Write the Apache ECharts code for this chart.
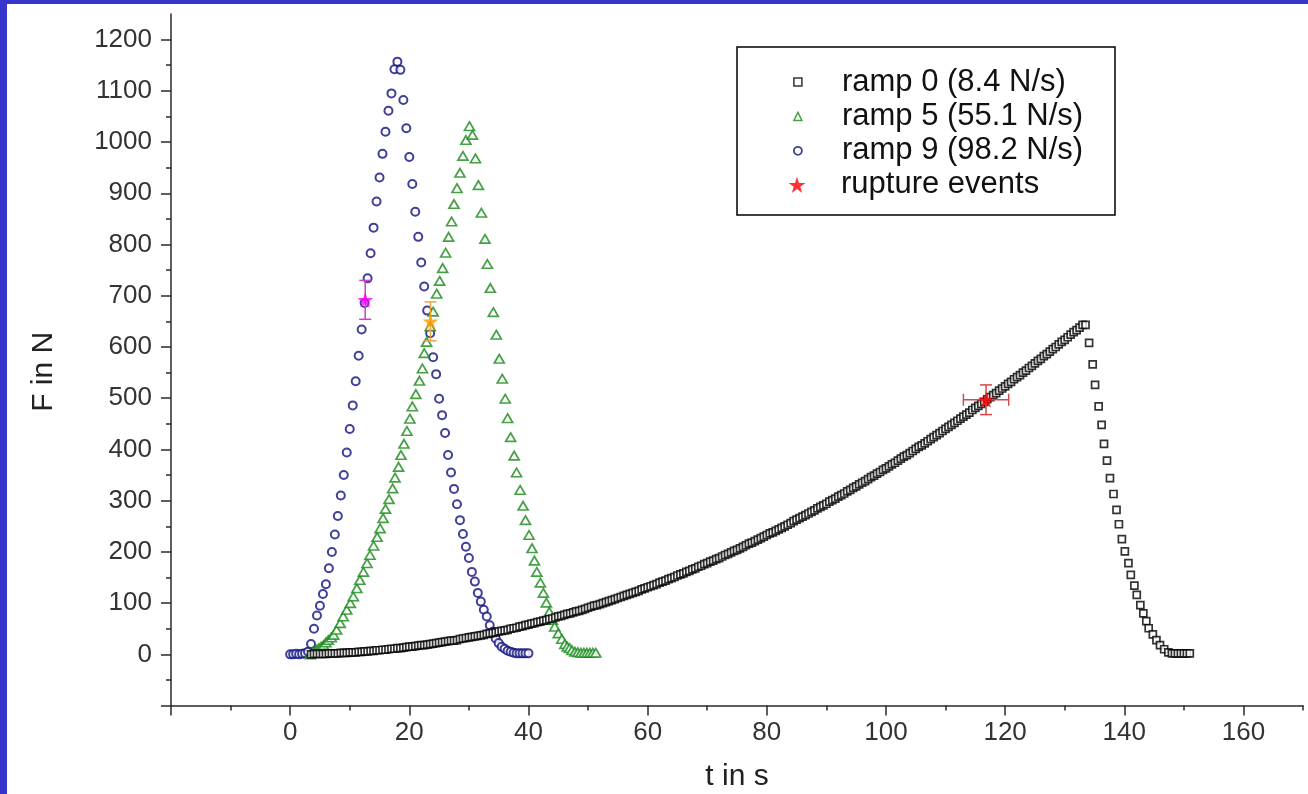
<!DOCTYPE html>
<html>
<head>
<meta charset="utf-8">
<script src="https://cdn.jsdelivr.net/npm/echarts@6/dist/echarts.min.js"></script>
<style>
html,body{margin:0;padding:0;background:#fff;}
#chart{width:1308px;height:794px;}
</style>
</head>
<body>
<div id="chart"></div>
<script>
// ---------- data ----------
const seriesNames = ['ramp 0 (8.4 N/s)', 'ramp 5 (55.1 N/s)', 'ramp 9 (98.2 N/s)', 'rupture events'];

const xTickValues = [-20, 0, 20, 40, 60, 80, 100, 120, 140, 160];
const xLabelValues = [0, 20, 40, 60, 80, 100, 120, 140, 160];
const xMinorValues = [-10, 10, 30, 50, 70, 90, 110, 130, 150, 170];
const yTickValues = [-100, 0, 100, 200, 300, 400, 500, 600, 700, 800, 900, 1000, 1100, 1200];
const yLabelValues = [0, 100, 200, 300, 400, 500, 600, 700, 800, 900, 1000, 1100, 1200];
const yMinorValues = [-50, 50, 150, 250, 350, 450, 550, 650, 750, 850, 950, 1050, 1150];

// ramp 0: [t in s, F in N]
const ramp0 = [[3.5,0],[4,1],[4.5,1],[5,1],[5.5,1],[6,1],[6.5,2],[7,2],[7.5,2],[8,2],[8.5,3],[9,3],[9.5,3],[10,4],[10.5,4],[11,4],[11.5,5],[12,5],[12.5,6],[13,6],[13.5,7],[14,7],[14.5,8],[15,8],[15.5,9],[16,9],[16.5,10],[17,11],[17.5,11],[18,12],[18.5,12],[19,13],[19.5,14],[20,15],[20.5,15],[21,16],[21.5,17],[22,18],[22.5,18],[23,19],[23.5,20],[24,21],[24.5,22],[25,23],[25.5,24],[26,25],[26.5,26],[27,27],[27.5,27],[28,28],[28.5,30],[29,31],[29.5,32],[30,33],[30.5,34],[31,35],[31.5,36],[32,37],[32.5,38],[33,40],[33.5,41],[34,42],[34.5,43],[35,45],[35.5,46],[36,47],[36.5,48],[37,50],[37.5,51],[38,52],[38.5,54],[39,55],[39.5,57],[40,58],[40.5,60],[41,61],[41.5,63],[42,64],[42.5,66],[43,67],[43.5,69],[44,70],[44.5,72],[45,74],[45.5,75],[46,77],[46.5,79],[47,80],[47.5,82],[48,84],[48.5,85],[49,87],[49.5,89],[50,91],[50.5,93],[51,95],[51.5,96],[52,98],[52.5,100],[53,102],[53.5,104],[54,106],[54.5,108],[55,110],[55.5,112],[56,114],[56.5,116],[57,118],[57.5,120],[58,122],[58.5,124],[59,127],[59.5,129],[60,131],[60.5,133],[61,135],[61.5,137],[62,140],[62.5,142],[63,144],[63.5,147],[64,149],[64.5,151],[65,154],[65.5,156],[66,158],[66.5,161],[67,163],[67.5,166],[68,168],[68.5,171],[69,173],[69.5,176],[70,178],[70.5,181],[71,183],[71.5,186],[72,188],[72.5,191],[73,194],[73.5,196],[74,199],[74.5,202],[75,204],[75.5,207],[76,210],[76.5,213],[77,216],[77.5,218],[78,221],[78.5,224],[79,227],[79.5,230],[80,233],[80.5,236],[81,238],[81.5,241],[82,244],[82.5,247],[83,250],[83.5,253],[84,256],[84.5,260],[85,263],[85.5,266],[86,269],[86.5,272],[87,275],[87.5,278],[88,281],[88.5,285],[89,288],[89.5,291],[90,294],[90.5,298],[91,301],[91.5,304],[92,308],[92.5,311],[93,314],[93.5,318],[94,321],[94.5,325],[95,328],[95.5,332],[96,335],[96.5,338],[97,342],[97.5,346],[98,349],[98.5,353],[99,356],[99.5,360],[100,363],[100.5,367],[101,371],[101.5,374],[102,378],[102.5,382],[103,386],[103.5,389],[104,393],[104.5,397],[105,401],[105.5,405],[106,408],[106.5,412],[107,416],[107.5,420],[108,424],[108.5,428],[109,432],[109.5,436],[110,440],[110.5,444],[111,448],[111.5,452],[112,456],[112.5,460],[113,464],[113.5,468],[114,472],[114.5,477],[115,481],[115.5,485],[116,489],[116.5,493],[117,498],[117.5,502],[118,506],[118.5,510],[119,515],[119.5,519],[120,523],[120.5,528],[121,532],[121.5,537],[122,541],[122.5,545],[123,550],[123.5,554],[124,559],[124.5,563],[125,568],[125.5,573],[126,577],[126.5,582],[127,586],[127.5,591],[128,596],[128.5,600],[129,605],[129.5,610],[130,614],[130.5,619],[131,624],[131.5,629],[132,633],[132.5,638],[133,643],[133.5,643],[134.1,608],[134.7,566],[135.1,526],[135.7,484],[136.2,448],[136.6,411],[137.1,378],[137.6,344],[138.2,313],[138.7,282],[139.1,254],[139.6,225],[140.1,201],[140.7,178],[141.1,155],[141.7,134],[142.1,116],[142.7,96],[143.2,80],[143.7,65],[144.1,51],[144.8,39],[145.4,28],[146.0,18],[146.7,10],[147.4,4],[148,2],[148.5,2],[149,2],[149.5,2],[150,2],[150.5,2],[151,2]];

// ramp 5: [t in s, F in N]
const ramp5 = [[3.4,0],[3.9,5],[4.4,9],[4.8,12],[5.2,15],[5.6,18],[6.0,23],[6.4,28],[6.9,33],[7.3,38],[7.8,48],[8.4,61],[8.9,74],[9.5,87],[10.1,100],[10.6,113],[11.2,129],[11.7,145],[12.3,161],[12.9,178],[13.4,194],[14.0,212],[14.6,229],[15.1,246],[15.6,266],[16.0,284],[16.6,303],[17.2,324],[17.6,345],[18.2,366],[18.6,389],[19.1,411],[19.6,436],[20.1,460],[20.5,484],[21.1,508],[21.7,534],[22.2,558],[22.5,588],[22.9,610],[23.5,640],[24.0,669],[24.6,704],[25.1,729],[25.6,754],[26.1,784],[26.6,815],[27.1,845],[27.5,879],[28.0,910],[28.5,940],[29.0,973],[29.5,1004],[30.1,1031],[30.6,1014],[31.1,968],[31.6,916],[32.1,862],[32.7,811],[33.1,762],[33.6,715],[34.1,668],[34.6,624],[35.1,577],[35.6,538],[36.1,499],[36.5,461],[37.0,424],[37.6,388],[38.0,355],[38.6,321],[39.1,290],[39.5,262],[40.1,233],[40.6,207],[41.0,183],[41.4,161],[42.0,140],[42.5,120],[43.0,101],[43.5,83],[44.0,67],[44.4,54],[45.0,41],[45.6,30],[46.1,20],[46.5,15],[46.9,12],[47.3,8],[47.8,5],[48.3,4],[48.8,3],[49.3,3],[49.8,3],[50.3,3],[50.8,3],[51.3,3]];

// ramp 9: [t in s, F in N]
const ramp9 = [[0,0],[0.5,0],[1,1],[1.5,0],[2,1],[2.5,2],[3,5],[3.5,20],[4,50],[4.5,76],[5,95],[5.5,118],[6,137],[6.5,168],[7,200],[7.5,234],[8,270],[8.5,310],[9,350],[9.5,394],[10,440],[10.5,486],[11,533],[11.5,583],[12,634],[12.5,686],[13,734],[13.5,783],[14,833],[14.5,884],[15,931],[15.5,977],[16,1020],[16.5,1061],[17,1095],[17.5,1142],[18,1157],[18.5,1141],[19,1082],[19.5,1027],[20,971],[20.5,918],[21,864],[21.5,815],[22,765],[22.5,718],[23,671],[23.5,627],[24,580],[24.5,547],[25,499],[25.5,467],[26,432],[26.5,389],[27,355],[27.5,323],[28,293],[28.5,262],[29,235],[29.5,210],[30,188],[30.5,161],[31,142],[31.5,120],[32,103],[32.5,87],[33,74],[33.5,57],[34,44],[34.5,31],[35,22],[35.5,15],[36,11],[36.5,7],[37,5],[37.5,3],[38,2],[38.5,2],[39,2],[39.5,2],[40,2]];

// rupture events
const ruptureT = [12.6, 23.55, 116.8];
const ruptureF = [692, 650, 497];
const ruptureTErr = [0, 0, 3.8];
const ruptureFErr = [38, 38, 29];

// ---------- styling ----------
const FONT = '"Liberation Sans", Arial, Helvetica, sans-serif';
const starPath = 'path://M50,0 L61.2,34.5 L97.6,34.5 L68.2,55.9 L79.4,90.5 L50,69.1 L20.6,90.5 L31.8,55.9 L2.4,34.5 L38.8,34.5 Z';
const starColors = ['#ff00ff', '#ff9900', '#ff0000'];
const barColors = ['#cc3fcc', '#e9a445', '#d24a4a'];
const c0 = '#000000', c5 = '#188a18', c9 = '#101080';

const ruptureData = ruptureT.map((t, i) => ({ value: [t, ruptureF[i]], itemStyle: { color: starColors[i] } }));
const errData = ruptureT.map((t, i) => ({ value: [t, ruptureF[i], ruptureTErr[i], ruptureFErr[i]], itemStyle: { color: barColors[i] } }));

function renderErr(params, api) {
  const t = api.value(0), f = api.value(1), et = api.value(2), ef = api.value(3);
  const c = api.coord([t, f]);
  const top = api.coord([t, f + ef]);
  const bot = api.coord([t, f - ef]);
  const cap = 6;
  const style = { stroke: api.visual('color'), lineWidth: 1.5, fill: null };
  const ch = [
    { type: 'line', shape: { x1: c[0], y1: top[1], x2: c[0], y2: bot[1] }, style },
    { type: 'line', shape: { x1: c[0] - cap, y1: top[1], x2: c[0] + cap, y2: top[1] }, style },
    { type: 'line', shape: { x1: c[0] - cap, y1: bot[1], x2: c[0] + cap, y2: bot[1] }, style }
  ];
  if (et > 0) {
    const l = api.coord([t - et, f]);
    const r = api.coord([t + et, f]);
    ch.push({ type: 'line', shape: { x1: l[0], y1: c[1], x2: r[0], y2: c[1] }, style });
    ch.push({ type: 'line', shape: { x1: l[0], y1: c[1] - cap, x2: l[0], y2: c[1] + cap }, style });
    ch.push({ type: 'line', shape: { x1: r[0], y1: c[1] - cap, x2: r[0], y2: c[1] + cap }, style });
  }
  return { type: 'group', children: ch };
}

const axisColor = '#2a2a2a';
const gridRect = { left: 171, right: 5, top: 14, bottom: 88.4, containLabel: false, outerBoundsMode: 'none' };
const legendText = { fontSize: 31, lineHeight: 31, fontFamily: FONT, color: '#111' };

const option = {
  animation: false,
  backgroundColor: '#ffffff',
  grid: [
    Object.assign({}, gridRect),
    Object.assign({}, gridRect)
  ],
  xAxis: [
    {
      type: 'value', gridIndex: 0, min: -20, max: 170, interval: 20,
      axisLine: { onZero: false, lineStyle: { color: axisColor, width: 1.5 } },
      axisTick: { customValues: xTickValues, length: 10, lineStyle: { color: axisColor, width: 1.5 } },
      axisLabel: { customValues: xLabelValues, formatter: v => String(v), fontSize: 26, fontFamily: FONT, color: '#333', margin: 14 },
      splitLine: { show: false },
      name: 't in s', nameLocation: 'middle', nameGap: 56,
      nameTextStyle: { fontSize: 30, fontFamily: FONT, color: '#222' }
    },
    {
      type: 'value', gridIndex: 1, min: -20, max: 170, interval: 10,
      axisLine: { show: false, onZero: false },
      axisTick: { customValues: xMinorValues, length: 5, lineStyle: { color: axisColor, width: 1.5 } },
      axisLabel: { show: false },
      splitLine: { show: false }
    }
  ],
  yAxis: [
    {
      type: 'value', gridIndex: 0, min: -100, max: 1250, interval: 100,
      axisLine: { show: true, onZero: false, lineStyle: { color: axisColor, width: 1.5 } },
      axisTick: { show: true, customValues: yTickValues, length: 10, lineStyle: { color: axisColor, width: 1.5 } },
      axisLabel: { customValues: yLabelValues, formatter: v => String(v), fontSize: 26, fontFamily: FONT, color: '#333', margin: 19 },
      splitLine: { show: false },
      name: 'F in N', nameLocation: 'middle', nameGap: 112,
      nameTextStyle: { fontSize: 30, fontFamily: FONT, color: '#222', padding: [0, 24, 0, 0] }
    },
    {
      type: 'value', gridIndex: 1, min: -100, max: 1250, interval: 50,
      axisLine: { show: false, onZero: false },
      axisTick: { show: true, customValues: yMinorValues, length: 5, lineStyle: { color: axisColor, width: 1.5 } },
      axisLabel: { show: false },
      splitLine: { show: false }
    }
  ],
  legend: [
    {
      data: [
        { name: seriesNames[0], icon: 'rect', itemStyle: { color: '#fff', borderColor: c0, borderWidth: 1.5 } },
        { name: seriesNames[1], icon: 'triangle', itemStyle: { color: '#fff', borderColor: c5, borderWidth: 1.5 } },
        { name: seriesNames[2], icon: 'circle', itemStyle: { color: '#fff', borderColor: c9, borderWidth: 1.8 } }
      ],
      orient: 'vertical', left: 793, top: 66.5, padding: 0,
      itemWidth: 8, itemHeight: 8, itemGap: 3.4,
      selectedMode: false,
      textStyle: Object.assign({ padding: [0, 0, 0, 35] }, legendText)
    },
    {
      data: [{ name: seriesNames[3], icon: starPath, itemStyle: { color: '#ff0000' } }],
      orient: 'vertical', left: 788.5, top: 169.3, padding: 0,
      itemWidth: 17, itemHeight: 17, itemGap: 3,
      selectedMode: false,
      textStyle: Object.assign({ padding: [0, 0, 0, 30.5] }, legendText)
    }
  ],
  graphic: [
    { type: 'rect', z: 3, shape: { x: 737, y: 47, width: 378, height: 168 }, style: { fill: '#fff', stroke: '#000', lineWidth: 1.5 } },
    { type: 'rect', z: 10, shape: { x: 0, y: 0, width: 1308, height: 4 }, style: { fill: '#3535cc' } },
    { type: 'rect', z: 10, shape: { x: 0, y: 0, width: 7, height: 794 }, style: { fill: '#3535cc' } }
  ],
  series: [
    {
      name: seriesNames[2], type: 'scatter', xAxisIndex: 0, yAxisIndex: 0, data: ramp9,
      symbol: 'circle', symbolSize: 8, z: 2,
      itemStyle: { color: '#fff', borderColor: c9, borderWidth: 2 }
    },
    {
      name: seriesNames[1], type: 'scatter', xAxisIndex: 0, yAxisIndex: 0, data: ramp5,
      symbol: 'triangle', symbolSize: [10, 8.5], z: 3,
      itemStyle: { color: '#fff', borderColor: c5, borderWidth: 1.7 }
    },
    {
      name: seriesNames[0], type: 'scatter', xAxisIndex: 0, yAxisIndex: 0, data: ramp0,
      symbol: 'rect', symbolSize: 7, z: 4,
      itemStyle: { color: '#fff', borderColor: c0, borderWidth: 1.7 }
    },
    {
      name: 'error bars', type: 'custom', xAxisIndex: 0, yAxisIndex: 0, data: errData,
      renderItem: renderErr, z: 5, silent: true
    },
    {
      name: seriesNames[3], type: 'scatter', xAxisIndex: 0, yAxisIndex: 0, data: ruptureData,
      symbol: starPath, symbolSize: 16, z: 6,
      itemStyle: { color: '#ff0000' }
    }
  ]
};

const chart = echarts.init(document.getElementById('chart'), null, { renderer: 'canvas' });
chart.setOption(option);
</script>
</body>
</html>
